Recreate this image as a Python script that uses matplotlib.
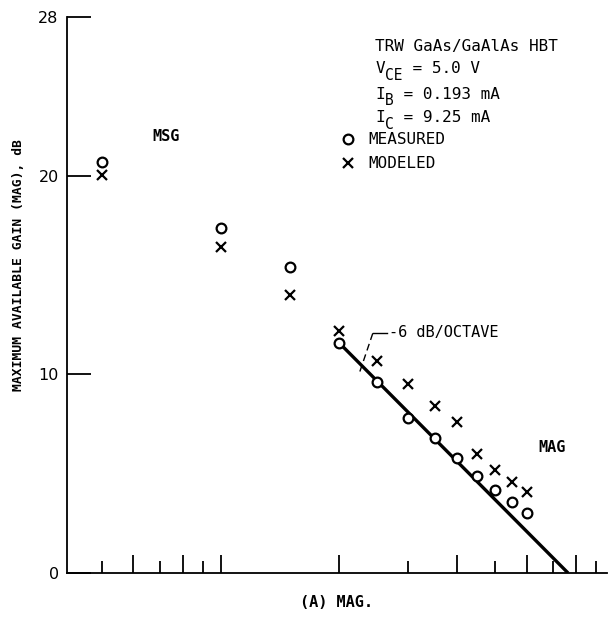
import numpy as np
import matplotlib
matplotlib.use("Agg")
import matplotlib.pyplot as plt

plt.rcParams['font.family'] = ['DejaVu Sans Mono', 'DejaVu Sans']

# MSG region (GHz, dB)
freq_msg = [1.0, 2.0, 3.0]
msg_measured = [20.7, 17.4, 15.4]
msg_modeled = [20.05, 16.4, 14.0]

# MAG region
freq_mag = [4, 5, 6, 7, 8, 9, 10, 11, 12]
mag_measured = [11.6, 9.6, 7.8, 6.8, 5.8, 4.9, 4.2, 3.6, 3.0]
mag_modeled = [12.2, 10.7, 9.5, 8.4, 7.6, 6.0, 5.2, 4.6, 4.1]

# -6 dB/octave asymptote end points
slope_freq = [4.0, 15.3]
slope_gain = [11.6, 0.0]

ytick_vals = [0, 10, 20, 28]
xtick_major = [1.2, 1.6, 2.0, 4, 8, 12, 16]
xtick_minor = [1.0, 1.4, 1.8, 6, 10, 14, 18]

# header: (main symbol, subscript, rest of line)
header_lines = [('TRW GaAs/GaAlAs HBT', '', ''),
                ('V', 'CE', ' = 5.0 V'),
                ('I', 'B', ' = 0.193 mA'),
                ('I', 'C', ' = 9.25 mA')]
header_y = [26.3, 25.17, 23.9, 22.7]

fs = 11.5
fs_sub = 10.5
char_w = 0.602 * fs  # mono advance in points
char_w_sub = 0.602 * fs_sub

fig = plt.figure(figsize=(6.10, 6.19), dpi=100)
ax = fig.add_axes([0.1098, 0.0743, 0.885, 0.898])

ax.set_xscale('log')
ax.set_xlim(0.813, 19.2)
ax.set_ylim(0, 28)

# data
ax.plot(freq_msg + freq_mag, msg_measured + mag_measured, 'o', ms=7,
        mfc='white', mec='black', mew=1.6, label='MEASURED', zorder=3)
ax.plot(freq_msg + freq_mag, msg_modeled + mag_modeled, 'x', ms=6.5,
        color='black', mew=1.6, label='MODELED', zorder=3)
ax.plot(slope_freq, slope_gain, color='black', lw=2.4, zorder=2,
        solid_capstyle='butt')

# leader for the slope label
ax.plot([4.52, 4.88], [10.15, 12.1], color='black', lw=1.0,
        ls=(0, (5, 3)))
ax.plot([4.88, 5.30], [12.1, 12.1], color='black', lw=1.0)
ax.text(5.35, 12.1, '-6 dB/OCTAVE', fontsize=11, va='center', ha='left')

ax.text(1.34, 22.0, 'MSG', fontsize=11, va='center', ha='left',
        fontweight='bold')
ax.text(12.85, 6.33, 'MAG', fontsize=11, va='center', ha='left',
        fontweight='bold')

for (main, sub, rest), yy in zip(header_lines, header_y):
    ax.text(4.94, yy, main, fontsize=fs, va='baseline', ha='left')
    if sub:
        x_sub = len(main) * char_w
        ax.annotate(sub, (4.94, yy), xytext=(x_sub, -4.5),
                    textcoords='offset points', fontsize=fs_sub,
                    va='baseline', ha='left')
        ax.annotate(rest, (4.94, yy),
                    xytext=(x_sub + len(sub) * char_w_sub + 0.5, 0),
                    textcoords='offset points', fontsize=fs,
                    va='baseline', ha='left')

leg = ax.legend(loc='upper left', bbox_to_anchor=(0.506, 0.793),
                frameon=False, fontsize=fs, handlelength=1.0,
                handletextpad=0.75, labelspacing=0.58, borderpad=0,
                borderaxespad=0)

# axes styling
for side in ['top', 'right']:
    ax.spines[side].set_visible(False)
for side in ['left', 'bottom']:
    ax.spines[side].set_linewidth(1.3)

ax.set_yticks(ytick_vals)
ax.set_yticklabels([str(v) for v in ytick_vals], family='DejaVu Sans',
                   fontsize=11.5)
ax.tick_params(axis='y', direction='in', length=17, width=1.3, pad=6)

ax.xaxis.set_major_locator(matplotlib.ticker.FixedLocator(xtick_major))
ax.xaxis.set_minor_locator(matplotlib.ticker.FixedLocator(xtick_minor))
ax.xaxis.set_major_formatter(matplotlib.ticker.NullFormatter())
ax.xaxis.set_minor_formatter(matplotlib.ticker.NullFormatter())
ax.tick_params(axis='x', which='major', direction='in', length=13, width=1.3)
ax.tick_params(axis='x', which='minor', direction='in', length=8.5, width=1.3)

fig.text(0.031, 0.572, 'MAXIMUM AVAILABLE GAIN (MAG), dB', rotation=90,
         fontsize=9.4, fontweight='bold', ha='center', va='center')
fig.text(0.551, 0.026, '(A) MAG.', fontsize=11, fontweight='bold',
         ha='center', va='center')

fig.savefig('out.png', dpi=100)
